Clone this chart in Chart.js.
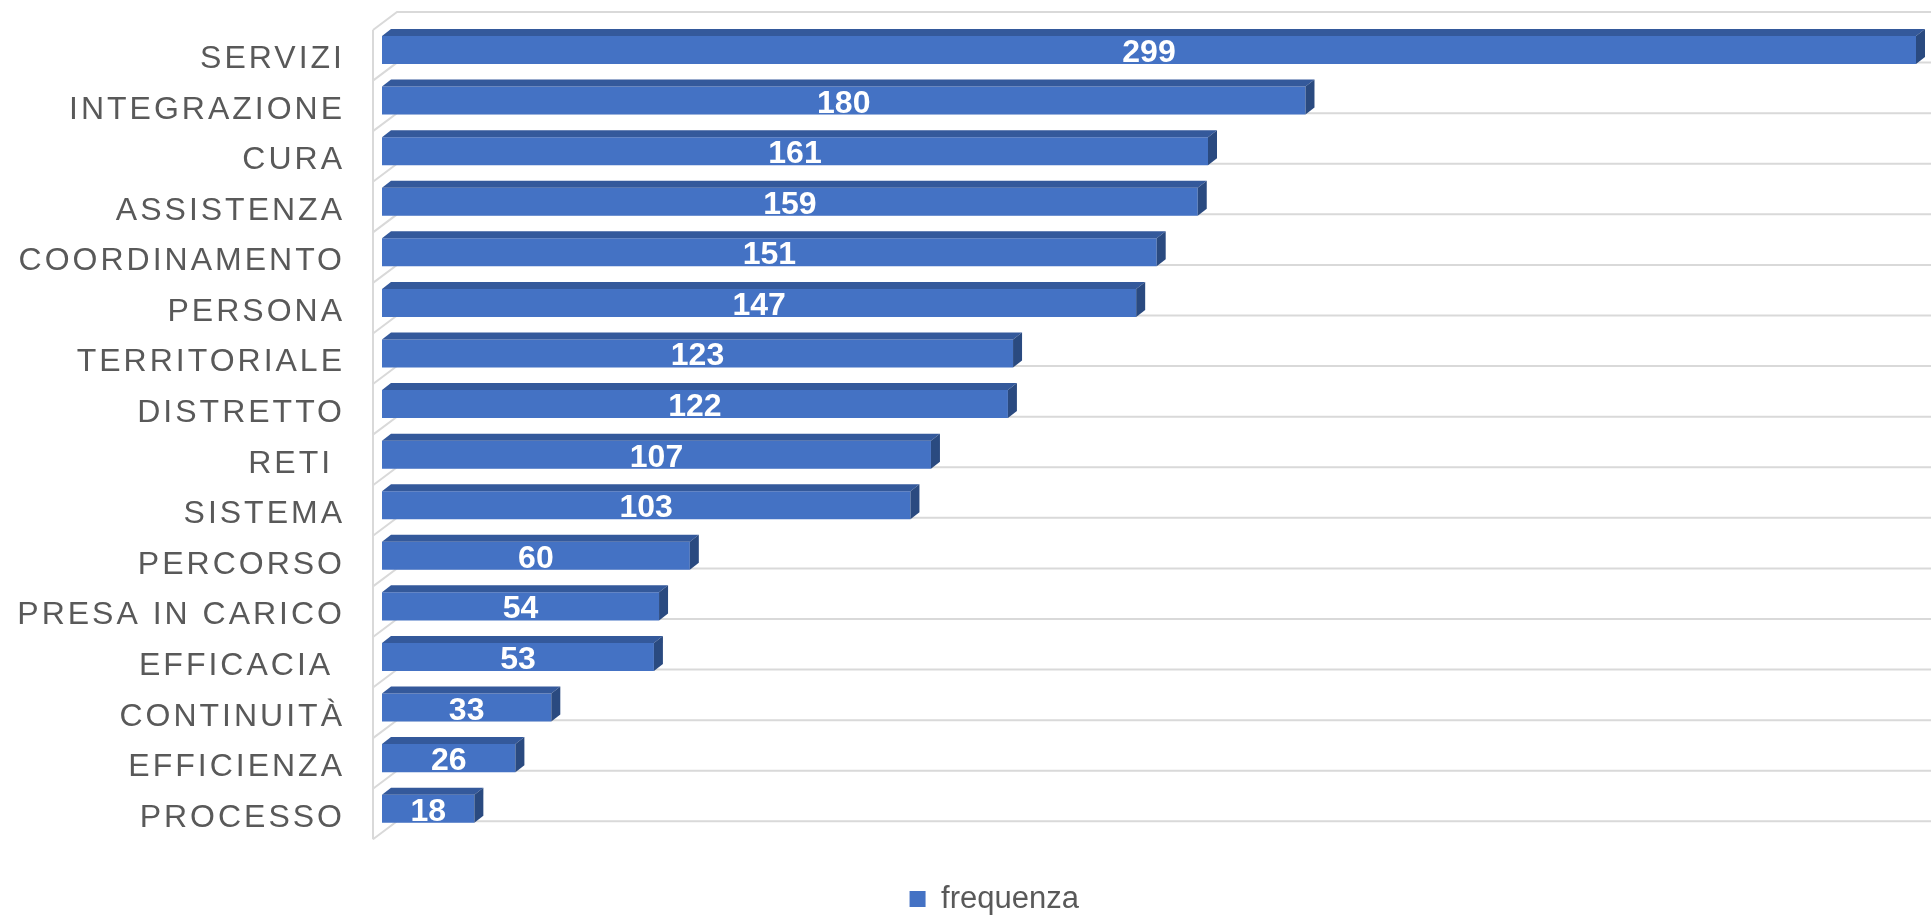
<!DOCTYPE html>
<html>
<head>
<meta charset="utf-8">
<script src="https://cdn.jsdelivr.net/npm/chart.js"></script>
<style>
  html, body { margin: 0; padding: 0; background: #fff; }
  #wrap { width: 1931px; height: 916px; position: relative; }
</style>
</head>
<body>
<div id="wrap"><canvas id="chart"></canvas></div>
<script>
// dati
const categories = ["SERVIZI", "INTEGRAZIONE", "CURA", "ASSISTENZA", "COORDINAMENTO", "PERSONA",
  "TERRITORIALE", "DISTRETTO", "RETI ", "SISTEMA", "PERCORSO", "PRESA IN CARICO",
  "EFFICACIA ", "CONTINUITÀ", "EFFICIENZA", "PROCESSO"];
const frequenza = [299, 180, 161, 159, 151, 147, 123, 122, 107, 103, 60, 54, 53, 33, 26, 18];
const seriesName = "frequenza";

const FONT = '"Liberation Sans", Arial, sans-serif';
const GRID = '#d9d9d9';
const TEXT = '#595959';

// pareti 3D, griglia ed etichette delle categorie
const wallPlugin = {
  id: 'wall3d',
  beforeDatasetsDraw(chart) {
    const {ctx, chartArea, scales: {y}} = chart;
    const xFront = chartArea.left - 9, xBack = chartArea.left + 15;
    const dy = 18, lift = 12.7;
    ctx.save();
    ctx.strokeStyle = GRID;
    ctx.lineWidth = 2;
    // bordo sinistro
    const gTop = y.getPixelForValue(-0.5) - lift;
    const gBot = y.getPixelForValue(categories.length - 0.5) - lift;
    ctx.beginPath();
    ctx.moveTo(xFront, gTop + dy);
    ctx.lineTo(xFront, gBot + dy);
    ctx.stroke();
    for (let k = 0; k <= categories.length; k++) {
      const g = y.getPixelForValue(k - 0.5) - lift;
      ctx.beginPath();
      ctx.moveTo(xFront, g + dy);
      ctx.lineTo(xBack, g);
      ctx.lineTo(chart.width, g);
      ctx.stroke();
    }
    // etichette asse
    ctx.fillStyle = TEXT;
    ctx.font = '32px ' + FONT;
    ctx.textAlign = 'right';
    ctx.textBaseline = 'alphabetic';
    if ('letterSpacing' in ctx) ctx.letterSpacing = '3px';
    categories.forEach((c, i) => {
      ctx.fillText(c, chartArea.left - 37, y.getPixelForValue(i) + 18);
    });
    ctx.restore();
  },
  afterDatasetsDraw(chart) {
    const {ctx} = chart;
    const meta = chart.getDatasetMeta(0);
    const dx = 9, dz = 7;
    ctx.save();
    meta.data.forEach((bar, i) => {
      const top = bar.y - bar.height / 2, bottom = bar.y + bar.height / 2;
      // faccia superiore
      ctx.fillStyle = '#34599b';
      ctx.beginPath();
      ctx.moveTo(bar.base, top);
      ctx.lineTo(bar.x, top);
      ctx.lineTo(bar.x + dx, top - dz);
      ctx.lineTo(bar.base + dx, top - dz);
      ctx.closePath();
      ctx.fill();
      // faccia laterale
      ctx.fillStyle = '#2a4a80';
      ctx.beginPath();
      ctx.moveTo(bar.x, top);
      ctx.lineTo(bar.x + dx, top - dz);
      ctx.lineTo(bar.x + dx, bottom - dz);
      ctx.lineTo(bar.x, bottom);
      ctx.closePath();
      ctx.fill();
      // valore
      ctx.fillStyle = '#ffffff';
      ctx.font = 'bold 32px ' + FONT;
      ctx.textAlign = 'center';
      ctx.textBaseline = 'alphabetic';
      ctx.fillText(String(frequenza[i]), (bar.base + bar.x) / 2, bar.y + 12);
    });
    ctx.restore();
  }
};

new Chart(document.getElementById('chart'), {
  type: 'bar',
  data: {
    labels: categories,
    datasets: [{
      label: seriesName,
      data: frequenza,
      backgroundColor: '#4472c4',
      borderWidth: 0,
      barPercentage: 0.554,
      categoryPercentage: 1
    }]
  },
  options: {
    indexAxis: 'y',
    responsive: true,
    maintainAspectRatio: false,
    animation: false,
    layout: { padding: { left: 72.5, right: 15, top: 24.7, bottom: 1 } },
    scales: {
      x: {
        min: 0, max: 299,
        ticks: { display: false },
        grid: { display: false, drawTicks: false },
        border: { display: false },
        title: { display: true, text: '', font: { size: 10, lineHeight: 1 }, padding: { top: 29.5, bottom: 0 } }
      },
      y: {
        ticks: { display: false },
        grid: { display: false, drawTicks: false },
        border: { display: false },
        afterFit(scale) { scale.width = 309.5; }
      }
    },
    plugins: {
      tooltip: { enabled: false },
      legend: {
        position: 'bottom',
        maxHeight: 41.5,
        labels: {
          color: TEXT,
          font: { size: 31, family: FONT },
          boxWidth: 16,
          boxHeight: 16,
          padding: 10
        }
      }
    }
  },
  plugins: [wallPlugin]
});
</script>
</body>
</html>
